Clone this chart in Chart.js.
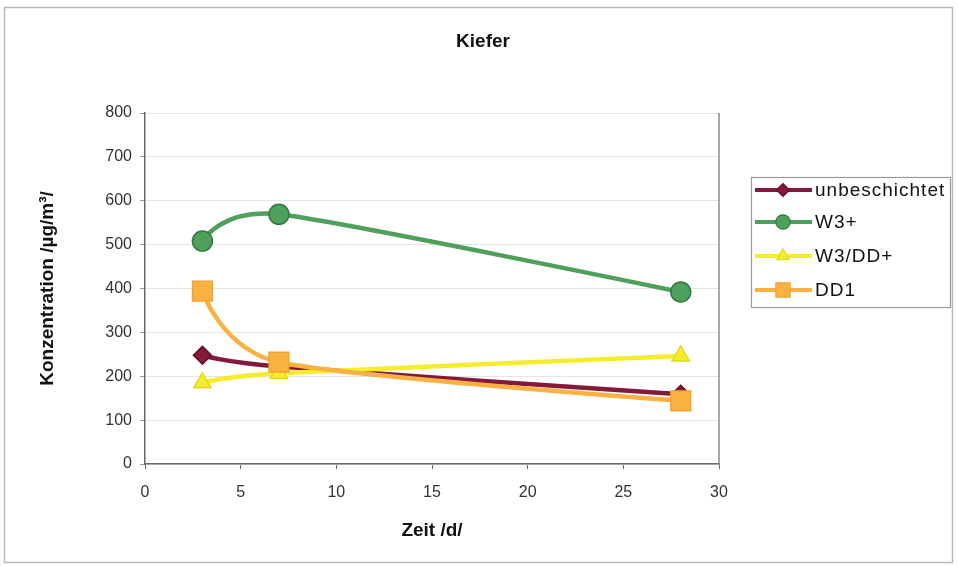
<!DOCTYPE html>
<html>
<head>
<meta charset="utf-8">
<script src="https://cdn.jsdelivr.net/npm/chart.js@4.4.1/dist/chart.umd.min.js"></script>
<style>
  html, body { margin: 0; padding: 0; background: #fff; }
  #wrap { width: 958px; height: 566px; position: relative; }
</style>
</head>
<body>
<div id="wrap"><canvas id="c" width="958" height="566"></canvas></div>
<script>
// Messzeitpunkte (Tage) und Konzentrationen in µg/m³
const days = [3, 7, 28];
const unbeschichtet = [248, 222, 159];
const w3plus = [508, 569, 392];
const w3dd = [185, 207, 246];
const dd1 = [394, 232, 144];

const seriesNames = ['unbeschichtet', 'W3+', 'W3/DD+', 'DD1'];
const yTicks = [0, 100, 200, 300, 400, 500, 600, 700, 800];
const xTicks = [0, 5, 10, 15, 20, 25, 30];

const FONT = '"Liberation Sans", Arial, sans-serif';

function pts(vals) { return days.map((d, i) => ({ x: d, y: vals[i] })); }

const styles = [
  { color: '#84193a', edge: '#5e0f27', point: 'rectRot', r: 9 },
  { color: '#4fa05c', edge: '#2f7a3c', point: 'circle', r: 10 },
  { color: '#f5ec2c', edge: '#e3d820', point: 'triangle', r: 10 },
  { color: '#f9b142', edge: '#f2a432', point: 'rect', r: 14 }
];
const values = [unbeschichtet, w3plus, w3dd, dd1];

const datasets = values.map((v, i) => ({
  label: seriesNames[i],
  data: pts(v),
  order: values.length - i,          // later series drawn on top
  borderColor: styles[i].color,
  backgroundColor: styles[i].color,
  borderWidth: 4.5,
  tension: 0.4,
  pointStyle: styles[i].point,
  pointRadius: styles[i].r,
  pointBackgroundColor: styles[i].color,
  pointBorderColor: styles[i].edge,
  pointBorderWidth: 1.5
}));

// Glättung: symmetrische Tangenten an inneren Punkten, Endpunkte ohne Überhang
const smoothing = {
  id: 'smoothing',
  beforeDatasetsDraw(chart) {
    const k = 0.12;
    chart.getSortedVisibleDatasetMetas().forEach(meta => {
      const line = meta.dataset;
      if (!line) return;
      line.updateControlPoints(chart.chartArea, 'x');
      const p = meta.data;
      for (let i = 0; i < p.length; i++) {
        const cur = p[i];
        if (i === 0 || i === p.length - 1) {
          cur.cp1x = cur.x; cur.cp1y = cur.y;
          cur.cp2x = cur.x; cur.cp2y = cur.y;
          continue;
        }
        const tx = p[i + 1].x - p[i - 1].x;
        const ty = p[i + 1].y - p[i - 1].y;
        cur.cp1x = cur.x - tx * k; cur.cp1y = cur.y - ty * k;
        cur.cp2x = cur.x + tx * k; cur.cp2y = cur.y + ty * k;
      }
    });
  }
};

// Rahmen, rechte Begrenzung der Zeichenfläche, Titel und Legende
const decor = {
  id: 'decor',
  beforeDraw(chart) {
    const ctx = chart.ctx;
    ctx.save();
    ctx.fillStyle = '#fff';
    ctx.fillRect(0, 0, chart.width, chart.height);
    ctx.strokeStyle = '#b8b8b8';
    ctx.lineWidth = 1.5;
    ctx.strokeRect(4.5, 7.5, 948, 555);
    ctx.restore();
  },
  afterDraw(chart) {
    const ctx = chart.ctx;
    const a = chart.chartArea;
    ctx.save();
    ctx.strokeStyle = '#8a8a8a';
    ctx.lineWidth = 1.5;
    ctx.beginPath();
    ctx.moveTo(a.right, a.top);
    ctx.lineTo(a.right, a.bottom);
    ctx.stroke();

    // Titel
    ctx.fillStyle = '#111';
    ctx.font = 'bold 19px ' + FONT;
    ctx.textAlign = 'center';
    ctx.textBaseline = 'middle';
    ctx.fillText('Kiefer', 483, 42);

    // Legende
    const lx = 751, ly = 177, lw = 199, lh = 130;
    ctx.strokeStyle = '#9a9a9a';
    ctx.lineWidth = 1.2;
    ctx.strokeRect(lx + 0.5, ly + 0.5, lw, lh);
    ctx.font = '19px ' + FONT;
    ctx.letterSpacing = '1px';
    ctx.textAlign = 'left';
    const rows = [190, 222, 256, 290];
    chart.data.datasets.forEach((ds, i) => {
      const y = rows[i];
      ctx.strokeStyle = ds.borderColor;
      ctx.lineWidth = 4;
      ctx.beginPath();
      ctx.moveTo(755, y);
      ctx.lineTo(812, y);
      ctx.stroke();
      ctx.fillStyle = ds.pointBackgroundColor;
      ctx.strokeStyle = ds.pointBorderColor;
      ctx.lineWidth = 1.2;
      Chart.helpers.drawPoint(ctx, {
        pointStyle: ds.pointStyle,
        radius: ds.pointRadius * 0.72,
        rotation: 0,
        borderWidth: 1.2
      }, 783, y);
      ctx.fillStyle = '#111';
      ctx.textBaseline = 'middle';
      ctx.fillText(ds.label, 815, y + 1);
    });
    ctx.restore();
  }
};

new Chart(document.getElementById('c'), {
  type: 'line',
  data: { datasets },
  plugins: [smoothing, decor],
  options: {
    responsive: false,
    animation: false,
    events: [],
    layout: { padding: { left: 36, top: 113, right: 239, bottom: 24 } },
    plugins: { legend: { display: false }, title: { display: false }, tooltip: { enabled: false } },
    scales: {
      x: {
        type: 'linear',
        min: 0, max: 30,
        afterBuildTicks: s => { s.ticks = xTicks.map(v => ({ value: v })); },
        afterFit: s => { s.height = 566 - 24 - 464; },
        grid: { display: true, drawOnChartArea: false, tickLength: 5, tickColor: '#666' },
        border: { color: '#666', width: 1.5 },
        ticks: { color: '#333', font: { family: FONT, size: 16 }, padding: 14 },
        title: { display: true, text: 'Zeit /d/', color: '#111', font: { family: FONT, size: 19, weight: 'bold' }, padding: 0 }
      },
      y: {
        type: 'linear',
        min: 0, max: 800,
        afterBuildTicks: s => { s.ticks = yTicks.map(v => ({ value: v })); },
        afterFit: s => { s.width = 145 - 36; },
        grid: { color: '#e4e4e4', lineWidth: 1, tickLength: 5, tickColor: '#999' },
        border: { color: '#666', width: 1.5 },
        ticks: { color: '#333', font: { family: FONT, size: 16 }, padding: 8 },
        title: { display: true, text: 'Konzentration /µg/m³/', color: '#111', font: { family: FONT, size: 19, weight: 'bold' }, padding: 0 }
      }
    }
  }
});
</script>
</body>
</html>
